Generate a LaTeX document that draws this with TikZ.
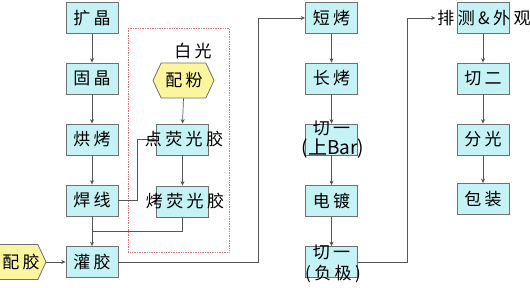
\documentclass[tikz,border=0pt]{standalone}
\usepackage{fontspec}
\usetikzlibrary{shapes.symbols,calc,arrows.meta}
\newfontfamily\cjk[LetterSpace=20]{Noto Sans CJK SC}
\newfontfamily\cjkn{Noto Sans CJK SC}
\definecolor{boxfill}{HTML}{C4F2F5}
\definecolor{hexfill}{HTML}{FBF5A0}
\definecolor{edge}{HTML}{707070}
\definecolor{linec}{HTML}{555555}
\definecolor{dashred}{HTML}{E07070}
\begin{document}
\begin{tikzpicture}[x=1pt,y=-1pt,
  box/.style={draw=edge, fill=boxfill, line width=0.8pt, minimum width=52pt, minimum height=31pt, inner sep=0pt, font=\fontsize{17}{19}\cjk},
  hexa/.style={signal, signal to=east and west, signal pointer angle=130, draw=edge, fill=hexfill, line width=0.8pt, minimum width=61pt, minimum height=35pt, inner sep=0pt},
  lbl/.style={font=\fontsize{17}{19}\cjk, inner sep=0pt},
  lbln/.style={font=\fontsize{19}{21}\cjkn, inner sep=0pt},
  arr/.style={draw=linec, line width=0.7pt, -{Stealth[length=4.5pt,width=4pt]}},
  ln/.style={draw=linec, line width=0.7pt}]
\useasboundingbox (0,0) rectangle (530,288);
% dashed frame
\draw[dashred, densely dotted, line width=0.7pt] (128,28) rectangle (229,252);
% column 1
\node[box] (kj) at (92,18) {扩晶};
\node[box] (gjj) at (92,78.5) {固晶};
\node[box] (hk) at (92,139.5) {烘烤};
\node[box] (hx) at (92,200.5) {焊线};
\node[box] (gj) at (92,262) {灌胶};
\node[hexa] (pj) at (15.5,262) {};
% column 2
\node[hexa] (pf) at (183.5,80.5) {};
\node[box] (dy) at (182.5,139.5) {};
\node[box] (ky) at (182.5,201.5) {};
% column 3
\node[box] (dk) at (331.5,18) {短烤};
\node[box] (ck) at (331.5,78.5) {长烤};
\node[box] (q1) at (331.5,139.5) {};
\node[box] (dd) at (331.5,201) {电镀};
\node[box] (q5) at (331.5,262) {};
% column 4
\node[box] (pc) at (483,18) {};
\node[box] (qe) at (483,78.5) {切二};
\node[box] (fg) at (483,139.5) {分光};
\node[box] (bz) at (483,199) {包装};
% connectors
\draw[arr] (kj) -- (gjj);
\draw[arr] (gjj) -- (hk);
\draw[arr] (hk) -- (hx);
\draw[arr] (hx) -- (gj);
\draw[arr] (pj.east) -- (gj.west);
\draw[arr] (pf.south) -- (dy.north);
\draw[arr] (dy) -- (ky);
\draw[ln] (ky.south) |- ($(hx.south)!0.5!(gj.north)$);
\draw[arr] (hx.east) -- ++(19,0) |- (dy.west);
\draw[arr] (gj.east) -- ++(140,0) |- (dk.west);
\draw[arr] (dk) -- (ck);
\draw[arr] (ck) -- (q1);
\draw[arr] (q1) -- (dd);
\draw[arr] (dd) -- (q5);
\draw[arr] (q5.east) -- ++(49,0) |- ([xshift=-21pt]pc.west);
\draw[arr] (pc) -- (qe);
\draw[arr] (qe) -- (fg);
\draw[arr] (fg) -- (bz);
% labels
\node[lbl] (tpj) at (21,262) {配胶};
\node[lbl] (tbg) at (193,51) {白光};
\node[lbl] (tpf) at (184,80.5) {配粉};
\node[lbl] (tdy) at (184,139.5) {点荧光胶};
\node[lbl] (tky) at (185,201.5) {烤荧光胶};
\node[lbl] (tq1a) at (331.5,128) {切一};
\node[lbln] (tq1b) at (333,149) {(上Bar)};
\node[lbl] (tq5a) at (331.5,252) {切一};
\node[lbl] (tq5b) at (333,274) {(负极)};
\node[lbl] (tpc) at (484,18) {排测\&外观};
\end{tikzpicture}
\end{document}
